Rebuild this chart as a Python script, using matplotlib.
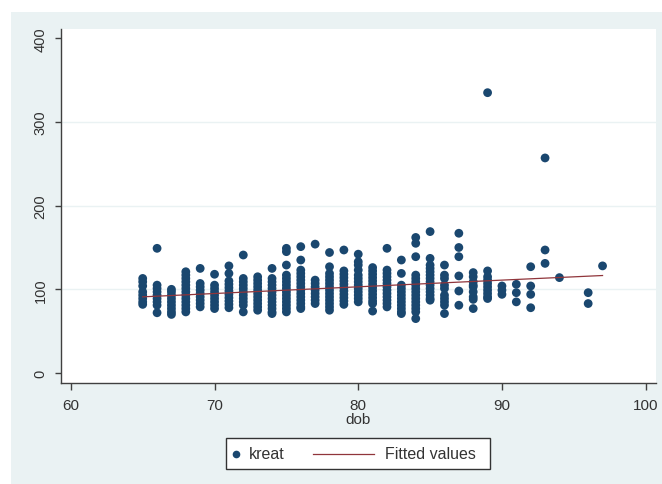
import matplotlib
matplotlib.use('Agg')
import matplotlib.pyplot as plt
from matplotlib.patches import Rectangle
from matplotlib.lines import Line2D

plt.rcParams['font.family'] = ['Liberation Sans', 'DejaVu Sans']

# scatter data: one line per dob value
dob = (
    [65] * 8 + [66] * 9 + [67] * 9 + [68] * 13 + [69] * 9 + [70] * 9
    + [71] * 11 + [72] * 11 + [73] * 11 + [74] * 13 + [75] * 15 + [76] * 15
    + [77] * 9 + [78] * 14 + [79] * 12 + [80] * 13 + [81] * 13 + [82] * 13
    + [83] * 12 + [84] * 16 + [85] * 14 + [86] * 10 + [87] * 6 + [88] * 9
    + [89] * 10 + [90] * 3 + [91] * 3 + [92] * 4 + [93] * 3 + [94] * 1
    + [96] * 2 + [97] * 1
)
kreat = [
    113, 109, 104, 97, 93, 89, 85, 82,
    149, 105, 101, 97, 93, 89, 85, 81, 72,
    100, 97, 93, 89, 85, 81, 77, 73, 70,
    121, 117, 113, 109, 105, 101, 97, 93, 89, 85, 81, 77, 73,
    125, 107, 103, 99, 95, 91, 87, 83, 79,
    118, 105, 101, 97, 93, 89, 85, 81, 77,
    128, 119, 110, 106, 102, 98, 94, 90, 86, 82, 78,
    141, 113, 109, 105, 101, 97, 93, 89, 85, 81, 73,
    115, 111, 107, 103, 99, 95, 91, 87, 83, 79, 75,
    125, 113, 109, 105, 101, 97, 93, 89, 85, 81, 77, 73, 71,
    149, 145, 129, 117, 113, 109, 105, 101, 97, 93, 89, 85, 81, 77, 73,
    151, 135, 123, 119, 115, 111, 107, 103, 99, 95, 91, 87, 83, 79, 77,
    154, 111, 107, 103, 99, 95, 91, 87, 83,
    144, 127, 119, 115, 111, 107, 103, 99, 95, 91, 87, 83, 79, 75,
    147, 122, 118, 114, 110, 106, 102, 98, 94, 90, 86, 82,
    142, 133, 129, 123, 117, 113, 109, 105, 101, 97, 93, 89, 85,
    126, 122, 118, 114, 110, 106, 102, 98, 94, 90, 86, 83, 74,
    149, 123, 119, 115, 111, 107, 103, 99, 95, 91, 87, 83, 79,
    135, 119, 105, 101, 97, 93, 89, 85, 81, 77, 73, 71,
    162, 155, 139, 117, 113, 109, 105, 101, 97, 93, 89, 85, 81, 77, 73, 65,
    169, 137, 129, 125, 121, 117, 113, 109, 105, 101, 97, 93, 89, 87,
    129, 117, 113, 105, 101, 93, 89, 85, 81, 71,
    167, 150, 139, 116, 98, 81,
    120, 115, 109, 103, 97, 91, 105, 88, 77,
    335, 122, 115, 111, 107, 103, 99, 95, 91, 89,
    104, 99, 94,
    106, 96, 85,
    127, 104, 94, 78,
    257, 147, 131,
    114,
    96, 83,
    128,
]

# fitted values
fit_dob = [65, 70, 75, 80, 85, 90, 97]
fit_val = [91, 95, 99, 103, 107, 111, 116.5]

xticks = [60, 70, 80, 90, 100]
yticks = [0, 100, 200, 300, 400]

navy = '#1a476f'
maroon = '#90353b'
bg = '#eaf2f3'
ink = '#333333'

W, H = 662, 485
fig = plt.figure(figsize=(W / 100, H / 100), dpi=100)
fig.patch.set_facecolor('white')
fig.add_artist(Rectangle((10.5 / W, 0), 1, 1 - 13 / H, transform=fig.transFigure,
                         facecolor=bg, edgecolor='none', zorder=0))

ax = fig.add_axes([60.5 / W, 1 - 384 / H, (656 - 60.5) / W, (384 - 30) / H])
ax.set_facecolor('white')
ax.set_xlim(59.28, 100.72)
ax.set_ylim(-11.95, 411.1)

for lvl in yticks[1:-1]:
    ax.axhline(lvl, color=bg, lw=1, zorder=1)

ax.scatter(dob, kreat, s=40, color=navy, edgecolors='none', zorder=3)
ax.plot(fit_dob, fit_val, color=maroon, lw=0.9, zorder=4)

for side in ['top', 'right']:
    ax.spines[side].set_visible(False)
for side in ['left', 'bottom']:
    ax.spines[side].set_color('#404040')
    ax.spines[side].set_linewidth(1)

ax.set_xticks(xticks)
ax.set_yticks(yticks)
ax.tick_params(axis='x', length=5, width=1, color='#404040', pad=6,
               labelsize=11, labelcolor=ink)
ax.tick_params(axis='y', length=4.3, width=1, color='#404040', pad=5,
               labelsize=10.5, labelcolor=ink)
plt.setp(ax.get_yticklabels(), rotation=90, va='center')
ax.set_xlabel('dob', fontsize=11, color=ink, labelpad=0)

# legend box drawn by hand, Stata style
def fx(px):
    return px / W

def fy(py):
    return 1 - py / H

fig.add_artist(Rectangle((fx(226), fy(470)), fx(490) - fx(226), fy(439) - fy(470),
                         transform=fig.transFigure, facecolor='white',
                         edgecolor='#333333', lw=1, zorder=5))
fig.add_artist(Line2D([fx(236)], [fy(455)], transform=fig.transFigure, marker='o',
                      markersize=5.5, color=navy, markeredgewidth=0, zorder=6))
fig.text(fx(249), fy(455), 'kreat', fontsize=11.5, color=ink, va='center', zorder=6)
fig.add_artist(Line2D([fx(313), fx(374)], [fy(455), fy(455)], transform=fig.transFigure,
                      color=maroon, lw=0.9, zorder=6))
fig.text(fx(385), fy(455), 'Fitted values', fontsize=11.5, color=ink, va='center', zorder=6)

fig.savefig('out.png', dpi=100)
